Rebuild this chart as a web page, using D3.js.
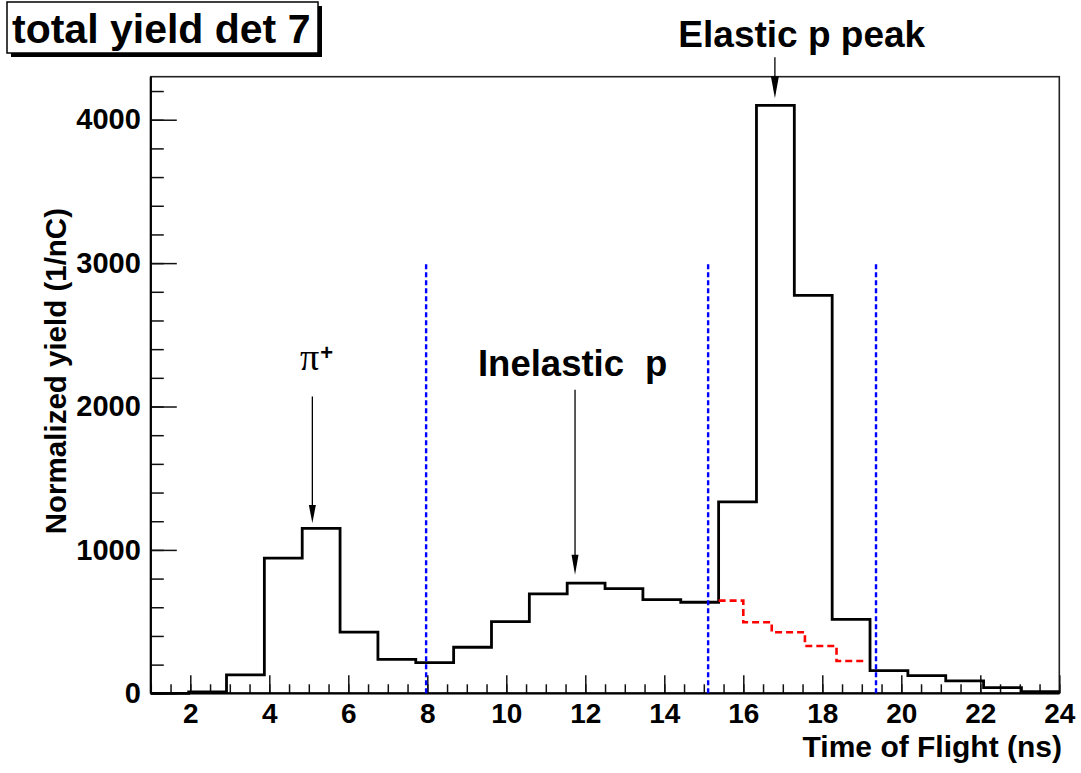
<!DOCTYPE html>
<html><head><meta charset="utf-8">
<script src="https://cdn.jsdelivr.net/npm/d3@7"></script>
<style>body{margin:0;background:#fff}svg{display:block}text{font-family:"Liberation Sans",Arial,sans-serif}</style>
</head><body><svg id="c" width="1081" height="773"></svg>
<script>
// ---- data ----
const binLow = 1, binHigh = 24, nBins = 24;
const totalYield = [0, 10, 128, 942, 1150, 426, 237, 214, 321, 500, 693, 768, 730, 653, 635, 1335, 4100, 2775, 515, 158, 123, 86, 39, 11];
const bgEdges = [15.375, 16.0, 16.72, 17.56, 18.36, 19.04];
const bgValues = [646, 496, 426, 330, 225];
const cutLines = [7.97, 15.11, 19.36];
const cutHeight = 3000;
const xTicks = [2, 4, 6, 8, 10, 12, 14, 16, 18, 20, 22, 24];
const yTicks = [0, 1000, 2000, 3000, 4000];
const titleText = "total yield det 7";
const xLabel = "Time of Flight (ns)";
const yLabel = "Normalized yield (1/nC)";

// ---- layout ----
const svg = d3.select("#c");
const x = d3.scaleLinear().domain([1, 24]).range([150.8, 1059.3]);
const y = d3.scaleLinear().domain([0, 4300]).range([693.3, 76.7]);
const bw = (binHigh - binLow) / nBins;
const edges = d3.range(nBins + 1).map(i => binLow + i * bw);

// frame
svg.append("rect").attr("x", x(1)).attr("y", y(4300)).attr("width", x(24) - x(1)).attr("height", y(0) - y(4300))
  .attr("fill", "none").attr("stroke", "#222").attr("stroke-width", 1.6);

// axes
const gx = svg.append("g").attr("transform", `translate(0,${y(0)})`);
gx.call(d3.axisBottom(x).tickValues(d3.range(1, 24.01, 0.5)).tickSize(-9).tickFormat(""));
gx.selectAll(".tick line").attr("stroke", "#111").attr("stroke-width", 1.5);
const gx2 = svg.append("g").attr("transform", `translate(0,${y(0)})`);
gx2.call(d3.axisBottom(x).tickValues(xTicks).tickSize(-18).tickPadding(10).tickFormat(d3.format("d")));
gx2.selectAll(".tick line").attr("stroke", "#111").attr("stroke-width", 1.5);
gx2.selectAll(".tick text").attr("font-size", 28).attr("font-weight", "bold").attr("fill", "#000")
  .attr("font-family", "Liberation Sans");
svg.selectAll(".domain").remove();

const gy = svg.append("g").attr("transform", `translate(${x(1)},0)`);
gy.call(d3.axisLeft(y).tickValues(d3.range(0, 4301, 200)).tickSize(-13).tickFormat(""));
gy.selectAll(".tick line").attr("stroke", "#111").attr("stroke-width", 1.5);
const gy2 = svg.append("g").attr("transform", `translate(${x(1)},0)`);
gy2.call(d3.axisLeft(y).tickValues(yTicks).tickSize(-26).tickPadding(10).tickFormat(d3.format("d")));
gy2.selectAll(".tick line").attr("stroke", "#111").attr("stroke-width", 1.5);
gy2.selectAll(".tick text").attr("font-size", 29).attr("font-weight", "bold").attr("fill", "#000")
  .attr("font-family", "Liberation Sans").attr("x", -10);
svg.selectAll(".domain").remove();
svg.append("line").attr("x1", x(1)).attr("x2", x(24)).attr("y1", y(0)).attr("y2", y(0)).attr("stroke", "#000").attr("stroke-width", 2.2);
svg.append("line").attr("x1", x(1)).attr("x2", x(1)).attr("y1", y(0)).attr("y2", y(4300)).attr("stroke", "#000").attr("stroke-width", 2.2);

// histogram
const pts = [];
totalYield.forEach((v, i) => { pts.push([edges[i], v]); pts.push([edges[i + 1], v]); });
const line = d3.line().x(d => x(d[0])).y(d => y(d[1]));
svg.append("path").attr("d", line(pts)).attr("fill", "none").attr("stroke", "#000").attr("stroke-width", 2.8);

// background (red dashed)
const bpts = [];
bgValues.forEach((v, i) => { bpts.push([bgEdges[i], v]); bpts.push([bgEdges[i + 1], v]); });
svg.append("path").attr("d", line(bpts)).attr("fill", "none").attr("stroke", "#ff0000").attr("stroke-width", 2.6)
  .attr("stroke-dasharray", "7,4");

// cut lines (blue dashed)
svg.selectAll(".cut").data(cutLines).join("line").attr("class", "cut")
  .attr("x1", d => x(d)).attr("x2", d => x(d)).attr("y1", y(0)).attr("y2", y(cutHeight))
  .attr("stroke", "#0000ff").attr("stroke-width", 2.4).attr("stroke-dasharray", "5,3");

// arrows
function arrow(xv, y0v, y1v, hl, hw) {
  const X = x(xv), Y0 = y(y0v), Y1 = y(y1v);
  svg.append("line").attr("x1", X).attr("x2", X).attr("y1", Y0).attr("y2", Y1 - hl + 2).attr("stroke", "#000").attr("stroke-width", 1.3);
  svg.append("path").attr("d", `M${X},${Y1} L${X - hw / 2},${Y1 - hl} L${X + hw / 2},${Y1 - hl} Z`).attr("fill", "#000");
}
arrow(5.09, 2070, 1187, 18, 7);
arrow(11.74, 2117, 826, 20, 7);
arrow(16.80, 4436, 4149, 22, 8);

// annotation texts
svg.append("text").attr("x", x(17.48)).attr("y", y(4510)).attr("text-anchor", "middle")
  .attr("font-size", 37).attr("font-weight", "bold").text("Elastic p peak");
const inel = svg.append("text").attr("x", x(9.283)).attr("y", y(2215)).attr("font-size", 36.5).attr("font-weight", "bold");
inel.append("tspan").text("Inelastic");
inel.append("tspan").attr("dx", 21).text("p");
const pi = svg.append("text").attr("x", x(4.776)).attr("y", y(2257)).attr("font-size", 38);
pi.append("tspan").attr("font-family", "Liberation Serif").text("π");
pi.append("tspan").attr("font-size", 22).attr("font-weight", "bold").attr("dy", -10).attr("dx", 1).text("+");

// axis titles
svg.append("text").attr("x", 1062).attr("y", 757).attr("text-anchor", "end")
  .attr("font-size", 30).attr("font-weight", "bold").text(xLabel);
svg.append("text").attr("transform", `translate(66,208) rotate(-90)`).attr("text-anchor", "end")
  .attr("font-size", 29.5).attr("font-weight", "bold").text(yLabel);

// title box
const tb = svg.append("g");
tb.append("rect").attr("x", 11).attr("y", 6).attr("width", 311).attr("height", 51).attr("fill", "#000");
tb.append("rect").attr("x", 7).attr("y", 2).attr("width", 311).attr("height", 51).attr("fill", "#fff").attr("stroke", "#000").attr("stroke-width", 1.5);
tb.append("text").attr("x", 12).attr("y", 43).attr("font-size", 41).attr("font-weight", "bold").text(titleText);
</script></body></html>
